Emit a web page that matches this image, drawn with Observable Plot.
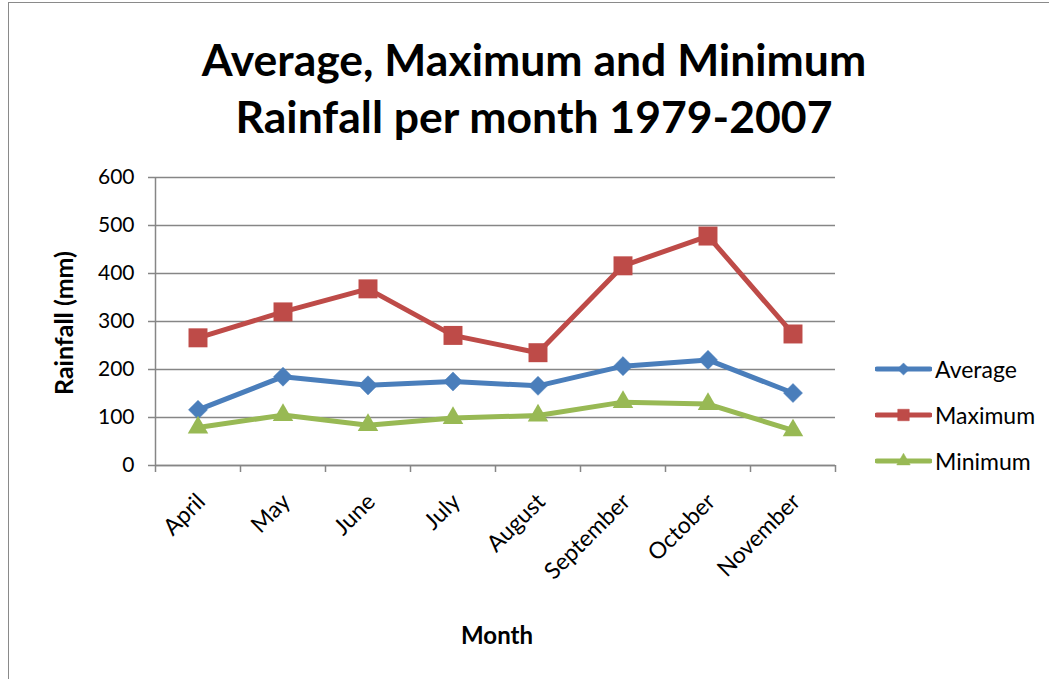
<!DOCTYPE html>
<html>
<head>
<meta charset="utf-8">
<script src="https://cdn.jsdelivr.net/npm/d3@7"></script>
<script src="https://cdn.jsdelivr.net/npm/@observablehq/plot@0.6"></script>
<style>
  html, body { margin: 0; padding: 0; background: #fff; }
  body { width: 1049px; height: 679px; overflow: hidden; position: relative; font-family: Lato, "Open Sans", sans-serif; }
  #frame { position: absolute; left: 8px; top: 2px; width: 1080px; height: 720px; border: 1.5px solid #8a8a8a; box-sizing: border-box; }
  #title { position: absolute; left: 0; width: 1068px; top: 30px; text-align: center; font-weight: 700; font-size: 44.5px; line-height: 57px; color: #000; }
  #chart { position: absolute; left: 0; top: 0; }
  #legend { position: absolute; left: 875px; top: 346px; font-size: 23px; color: #000; }
  .row { display: flex; align-items: center; height: 46px; }
  .row svg { display: block; margin-right: 3px; }
  .axtitle { position: absolute; font-weight: 700; white-space: nowrap; color: #000; }
</style>
</head>
<body>
<div id="frame"></div>
<div id="title">Average, Maximum and Minimum<br>Rainfall per month 1979-2007</div>
<div id="chart"></div>
<div id="legend"></div>
<script>
// Monthly rainfall (mm), 1979-2007
const months = ["April", "May", "June", "July", "August", "September", "October", "November"];
const average = [116, 185, 167, 175, 166, 207, 220, 151];
const maximum = [266, 320, 368, 271, 235, 416, 478, 274];
const minimum = [79, 105, 84, 99, 104, 132, 128, 73];
const yTicks = [0, 100, 200, 300, 400, 500, 600];

const seriesDefs = [
  {name: "Average", values: average, color: "#4A7EBB", symbol: "diamond2", r: 8.6, lr: 5.5},
  {name: "Maximum", values: maximum, color: "#BE4B48", symbol: "square", r: 10.7, lr: 6.5},
  {name: "Minimum", values: minimum, color: "#98B954", symbol: "triangle", r: 7.6, lr: 5}
];

const rows = seriesDefs.flatMap(s => s.values.map((v, i) => ({series: s.name, i, value: v})));
const boundaries = d3.range(-0.5, months.length, 1);
const gray = "#868686";

const marks = [
  Plot.gridY(yTicks, {stroke: gray, strokeOpacity: 1, strokeWidth: 1.5}),
  Plot.ruleX([-0.5], {y1: 0, y2: 600, stroke: gray, strokeWidth: 1.5}),
  Plot.ruleY([0], {stroke: gray, strokeWidth: 1.5}),
  Plot.axisY(yTicks, {tickSize: 7, tickPadding: 14, fontSize: 21, stroke: gray, strokeWidth: 1.5, label: null, color: "#000"}),
  Plot.axisX(boundaries, {tickSize: 7, tickFormat: () => "", stroke: gray, strokeWidth: 1.5, label: null}),
  Plot.text(months, {x: (d, i) => i, frameAnchor: "bottom", text: d => d, rotate: -45, textAnchor: "end", lineAnchor: "top", dx: -3, dy: 26, fontSize: 23, fill: "#000"})
];
for (const s of seriesDefs) {
  const data = rows.filter(d => d.series === s.name);
  marks.push(Plot.line(data, {x: "i", y: "value", stroke: s.color, strokeWidth: 5, strokeLinejoin: "round"}));
}
for (const s of seriesDefs) {
  const data = rows.filter(d => d.series === s.name);
  marks.push(Plot.dot(data, {x: "i", y: "value", symbol: () => s.symbol, r: s.r, fill: s.color, stroke: s.symbol === "diamond2" ? s.color : "none", strokeWidth: 0.5}));
}

const chart = Plot.plot({
  width: 1049,
  height: 679,
  marginLeft: 155,
  marginRight: 214,
  marginTop: 177,
  marginBottom: 214,
  style: {background: "transparent", fontFamily: "Lato, 'Open Sans', sans-serif"},
  x: {type: "linear", domain: [-0.5, months.length - 0.5], axis: null},
  y: {domain: [0, 600], axis: null},
  symbol: {type: "identity"},
  marks
});
document.getElementById("chart").appendChild(chart);

// Axis titles
const yl = document.createElement("div");
yl.className = "axtitle";
yl.textContent = "Rainfall (mm)";
yl.style.fontSize = "25px";
yl.style.left = "63px"; yl.style.top = "323px";
yl.style.transform = "translate(-50%, -50%) rotate(-90deg)";
document.body.appendChild(yl);

const xl = document.createElement("div");
xl.className = "axtitle";
xl.textContent = "Month";
xl.style.fontSize = "24px";
xl.style.left = "497px"; xl.style.top = "634px";
xl.style.transform = "translate(-50%, -50%)";
document.body.appendChild(xl);

// Legend
const legend = d3.select("#legend");
for (const s of seriesDefs) {
  const row = legend.append("div").attr("class", "row");
  const svg = row.append("svg").attr("width", 57).attr("height", 20);
  svg.append("line").attr("x1", 2).attr("x2", 55).attr("y1", 10).attr("y2", 10)
    .attr("stroke", s.color).attr("stroke-width", 5).attr("stroke-linecap", "round");
  const sym = {diamond2: d3.symbolDiamond2, square: d3.symbolSquare, triangle: d3.symbolTriangle}[s.symbol];
  svg.append("path").attr("transform", "translate(28.5,10)")
    .attr("d", d3.symbol(sym, Math.PI * s.lr * s.lr)()).attr("fill", s.color).attr("stroke", s.color).attr("stroke-width", 0.5);
  row.append("span").text(s.name);
}
</script>
</body>
</html>
